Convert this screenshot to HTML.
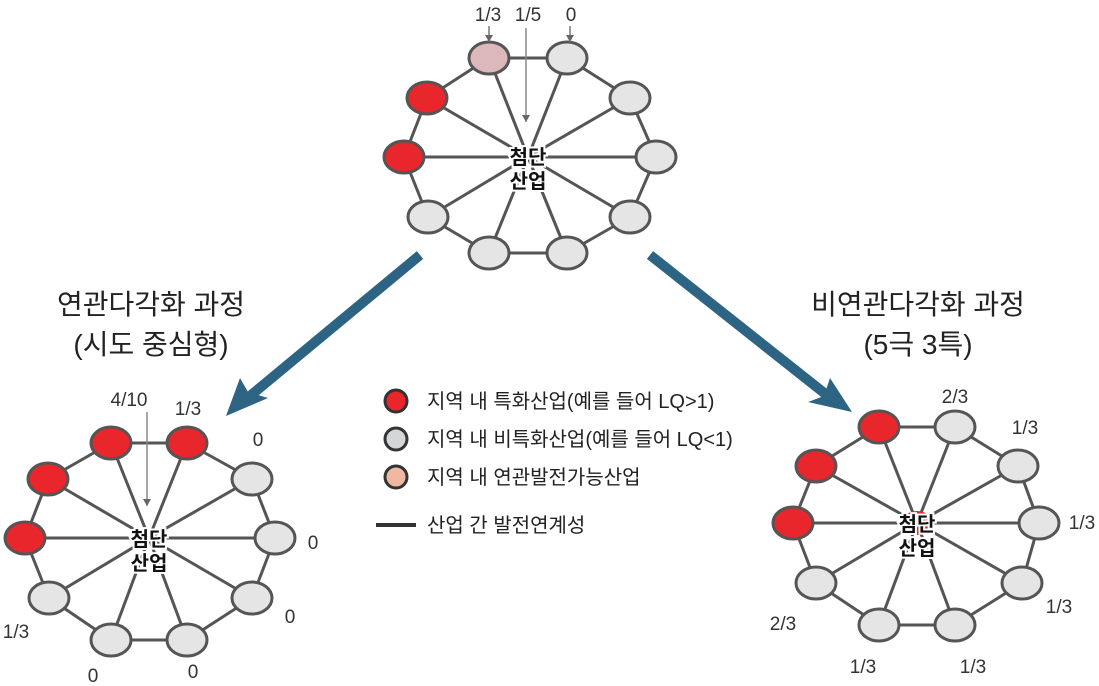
<!DOCTYPE html>
<html><head><meta charset="utf-8"><style>
html,body{margin:0;padding:0;background:#fff;}
svg{display:block;font-family:"Liberation Sans","Noto Sans CJK KR",sans-serif;}
.n{font-size:19px;fill:#333;text-anchor:middle;}
.t{font-size:28px;fill:#222;text-anchor:middle;}
.lg{font-size:20px;fill:#222;}
.c{font-size:20px;font-weight:bold;fill:#111;text-anchor:middle;stroke:#fff;stroke-width:4px;paint-order:stroke;}
</style></head><body>
<svg id="s" width="1099" height="686" viewBox="0 0 1099 686" xmlns="http://www.w3.org/2000/svg">
<defs>
<marker id="sm" markerWidth="8" markerHeight="8" refX="7" refY="4" orient="auto" markerUnits="userSpaceOnUse"><path d="M0,0 L7,4 L0,8 z" fill="#666"/></marker>
</defs>
<g id="g"></g>
<line x1="420" y1="255" x2="250" y2="396" stroke="#2d6483" stroke-width="10"/>
<path d="M226,416 L240,378 L248,392 L268,398 Z" fill="#2d6483"/>
<line x1="650" y1="255" x2="828" y2="396" stroke="#2d6483" stroke-width="10"/>
<path d="M852,412 L808,402 L824,396 L830,378 Z" fill="#2d6483"/>
<line x1="489" y1="26" x2="489" y2="42" stroke="#777" stroke-width="1.5" marker-end="url(#sm)"/>
<line x1="570" y1="26" x2="570" y2="42" stroke="#777" stroke-width="1.5" marker-end="url(#sm)"/>
<line x1="526" y1="28" x2="526" y2="122" stroke="#888" stroke-width="1.5" marker-end="url(#sm)"/>
<line x1="147" y1="412" x2="147" y2="506" stroke="#888" stroke-width="1.5" marker-end="url(#sm)"/>
<text class="n" x="488" y="21">1/3</text><text class="n" x="528" y="21">1/5</text><text class="n" x="571" y="21">0</text>
<text class="n" x="129" y="406">4/10</text><text class="n" x="188" y="415">1/3</text><text class="n" x="258" y="446">0</text>
<text class="n" x="313" y="549">0</text><text class="n" x="290" y="623">0</text><text class="n" x="16" y="638">1/3</text>
<text class="n" x="93" y="682">0</text><text class="n" x="193" y="678">0</text>
<text class="n" x="955" y="403">2/3</text><text class="n" x="1025" y="434">1/3</text><text class="n" x="1082" y="529">1/3</text>
<text class="n" x="1059" y="613">1/3</text><text class="n" x="783" y="630">2/3</text><text class="n" x="863" y="673">1/3</text><text class="n" x="973" y="673">1/3</text>
<text class="t" x="151" y="314">연관다각화 과정</text>
<text class="t" x="151" y="354">(시도 중심형)</text>
<text class="t" x="918" y="314">비연관다각화 과정</text>
<text class="t" x="918" y="354">(5극 3특)</text>
<circle cx="396" cy="401" r="11" fill="#e8262b" stroke="#333" stroke-width="3"/>
<circle cx="396" cy="439" r="11" fill="#d4d5d7" stroke="#333" stroke-width="3"/>
<circle cx="396" cy="477" r="11" fill="#eeb8a3" stroke="#333" stroke-width="3"/>
<line x1="376" y1="525" x2="416" y2="525" stroke="#333" stroke-width="4"/>
<text class="lg" x="427" y="408">지역 내 특화산업(예를 들어 LQ&gt;1)</text>
<text class="lg" x="427" y="446">지역 내 비특화산업(예를 들어 LQ&lt;1)</text>
<text class="lg" x="427" y="484">지역 내 연관발전가능산업</text>
<text class="lg" x="427" y="532">산업 간 발전연계성</text>
<g id="ct"></g>
<text class="c" x="528" y="164">첨단</text><text class="c" x="528" y="188">산업</text>
<text class="c" x="149" y="546">첨단</text><text class="c" x="149" y="570">산업</text>
<text class="c" x="917" y="531">첨단</text><text class="c" x="917" y="555">산업</text>
</svg>
<script>
var NS="http://www.w3.org/2000/svg",g=document.getElementById('g');
function el(p,t,a){var e=document.createElementNS(NS,t);for(var k in a)e.setAttribute(k,a[k]);p.appendChild(e);return e;}
var R='#e8262b',G='#e6e5e5',P='#dcb8bb';
var D=[
 {c:[528,157],n:[[489,58],[567,58],[630,98],[656,157],[630,217],[567,253],[489,253],[428,217],[404,157],[427,98]],f:[P,G,G,G,G,G,G,G,R,R]},
 {c:[149,538],n:[[111,443],[187,443],[252,479],[275,538],[252,598],[187,640],[111,640],[49,598],[25,538],[48,479]],f:[R,R,G,G,G,G,G,G,R,R]},
 {c:[917,523],n:[[879,427],[955,427],[1018,466],[1039,523],[1022,583],[955,625],[879,625],[816,583],[793,523],[816,466]],f:[R,G,G,G,G,G,G,G,R,R]}
];
D.forEach(function(d,i){
 d.n.forEach(function(p,j){var q=d.n[(j+1)%10];
  el(g,'line',{x1:p[0],y1:p[1],x2:q[0],y2:q[1],stroke:'#555','stroke-width':3});
  el(g,'line',{x1:p[0],y1:p[1],x2:d.c[0],y2:d.c[1],stroke:'#555','stroke-width':3});});
 if(i==2)el(g,'ellipse',{cx:917,cy:523,rx:15,ry:12,fill:R});
 d.n.forEach(function(p,j){el(g,'ellipse',{cx:p[0],cy:p[1],rx:20,ry:16,fill:d.f[j],stroke:'#555','stroke-width':3});});
});
</script>
</body></html>
